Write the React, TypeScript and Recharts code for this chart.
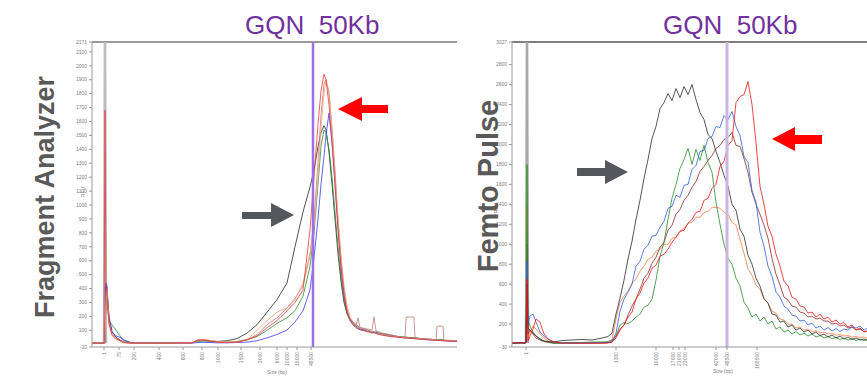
import React from 'react';
import { LineChart, Line, XAxis, YAxis, ReferenceLine } from 'recharts';

// ---------------- Fragment Analyzer (left) ----------------
const LEFT_POS = [0, 10, 12, 13, 14, 15, 17, 20, 24, 28, 32, 40, 60, 80, 100, 106, 112, 118, 125, 135, 145, 155, 165, 175, 185, 195, 203, 211, 218, 222, 226, 229, 232, 234, 237, 240, 243, 246, 249, 252, 255, 258, 261, 264, 266, 268, 275, 280, 282, 284, 290, 298, 306, 313, 314, 322, 323, 330, 340, 344, 345, 351, 352, 358, 365];
const LEFT_BLACK = [8, 8, 8, 8, 420, 380, 200, 90, 50, 30, 15, 8, 8, 8, 10, 30, 32, 25, 20, 25, 40, 80, 140, 230, 320, 440, 700, 950, 1130, 1250, 1420, 1520, 1570, 1540, 1380, 1150, 900, 650, 450, 300, 220, 180, 160, 140, 130, 120, 100, 90, 85, 80, 75, 65, 55, 50, 50, 45, 45, 40, 35, 30, 30, 30, 28, 25, 22];
const LEFT_RED = [8, 8, 8, 1680, 400, 350, 150, 70, 40, 25, 12, 8, 8, 8, 10, 30, 30, 22, 15, 12, 15, 30, 60, 118, 170, 240, 300, 390, 820, 1200, 1580, 1820, 1940, 1900, 1720, 1450, 1150, 820, 560, 360, 230, 170, 140, 120, 110, 105, 90, 80, 85, 75, 65, 55, 50, 45, 45, 40, 40, 35, 30, 28, 28, 25, 25, 22, 20];
const LEFT_ORANGE = [8, 8, 8, 8, 300, 380, 130, 60, 35, 20, 10, 8, 8, 8, 12, 32, 35, 28, 20, 15, 20, 30, 100, 170, 230, 260, 320, 440, 650, 850, 1200, 1550, 1800, 1900, 1820, 1550, 1200, 900, 620, 420, 280, 200, 160, 140, 130, 120, 100, 90, 88, 80, 70, 60, 52, 48, 48, 42, 42, 38, 32, 30, 30, 28, 26, 24, 22];
const LEFT_ROSY = [8, 8, 8, 8, 380, 400, 160, 70, 40, 25, 12, 8, 8, 8, 10, 25, 28, 22, 15, 12, 15, 30, 70, 140, 190, 260, 330, 420, 640, 900, 1300, 1650, 1870, 1900, 1800, 1550, 1250, 900, 620, 400, 250, 180, 150, 130, 190, 120, 110, 100, 195, 95, 80, 70, 55, 45, 195, 195, 45, 40, 35, 30, 130, 130, 30, 28, 25];
const LEFT_GREEN = [8, 8, 8, 8, 380, 300, 170, 140, 100, 60, 25, 8, 8, 10, 12, 20, 22, 18, 15, 15, 20, 35, 55, 100, 150, 190, 240, 345, 560, 800, 1150, 1420, 1540, 1520, 1400, 1200, 950, 700, 480, 320, 220, 170, 140, 120, 110, 105, 95, 85, 80, 90, 70, 60, 55, 50, 50, 45, 45, 38, 32, 30, 30, 35, 28, 25, 22];
const LEFT_BLUE = [8, 8, 8, 8, 440, 420, 180, 90, 60, 50, 30, 10, 8, 8, 8, 12, 14, 12, 10, 10, 12, 15, 25, 45, 70, 102, 160, 240, 390, 620, 900, 1150, 1350, 1500, 1660, 1450, 1150, 850, 550, 350, 240, 180, 150, 130, 120, 110, 100, 88, 90, 85, 70, 60, 52, 45, 45, 40, 40, 35, 30, 28, 28, 25, 25, 22, 20];
const LEFT_MARKER_POS = [12, 13, 14];
const LEFT_MARKER_VAL = [8, 2400, 8];
const LEFT_TICK_POS = [12, 27, 42, 67, 91, 110, 126, 149, 168, 185, 195, 205, 219];
const LEFT_TICK_LABELS = ['1', '75', '200', '400', '600', '800', '1000', '1500', '3000', '6000', '10000', '15000', '48500'];
const LEFT_Y_TICKS = [-20, 100, 200, 300, 400, 500, 600, 700, 800, 900, 1000, 1100, 1200, 1300, 1400, 1500, 1600, 1700, 1800, 1900, 2000, 2100, 2171];
const LEFT_X_DOMAIN = [0, 365];
const LEFT_Y_DOMAIN = [-20, 2171];
const LEFT_GQN_POS = 221;

// ---------------- Femto Pulse (right) ----------------
const RIGHT_POS = [0, 10, 13, 14, 15, 16, 18, 21, 24, 28, 32, 36, 42, 50, 60, 70, 80, 90, 96, 100,
  104, 108, 112, 116, 120, 124, 128, 132, 136, 140, 144, 148, 152, 156, 160, 164, 168, 172, 176, 180, 184, 188, 192, 196, 200, 204, 208, 212, 216, 220, 224, 228, 232, 236, 240, 244, 248, 252, 256, 260, 264, 268, 272, 276, 280, 284, 288, 292, 296, 300, 304, 308, 312, 316, 320, 324, 328, 332, 336, 340, 344, 348, 352, 356, 360];
const RIGHT_BLACK = [10, 12, 10, 15, 600, 160, 140, 110, 80, 50, 30, 25, 20, 35, 40, 45, 40, 60, 75, 110,
  300, 460, 640, 850, 1030, 1250, 1440, 1660, 1850, 2060, 2180, 2360, 2420, 2510, 2440, 2560, 2470, 2580, 2500, 2600, 2450, 2320, 2250, 2100, 2060, 1930, 1820, 1690, 1580, 1400, 1340, 1150, 1080, 890, 800, 660, 580, 450, 410, 300, 290, 220, 230, 170, 190, 140, 160, 120, 140, 100, 120, 85, 100, 70, 90, 60, 80, 50, 70, 45, 60, 40, 50, 35, 45];
const RIGHT_GREEN = [10, 12, 10, 15, 1800, 250, 180, 120, 80, 50, 30, 20, 5, 10, 15, 15, 20, 20, 25, 40,
  80, 190, 215, 205, 230, 270, 300, 370, 390, 450, 640, 880, 1020, 1250, 1460, 1600, 1760, 1850, 1960, 1800, 1950, 1840, 1990, 1820, 1720, 1420, 1200, 1000, 860, 800, 660, 580, 420, 360, 270, 300, 230, 270, 200, 230, 150, 170, 120, 140, 100, 125, 90, 110, 80, 100, 70, 85, 60, 75, 55, 65, 45, 60, 40, 55, 35, 50, 35, 45, 30];
const RIGHT_BLUE = [10, 12, 10, 15, 830, 200, 280, 300, 220, 120, 80, 50, 20, 10, 10, 12, 10, 12, 15, 25,
  110, 330, 450, 520, 600, 780, 830, 950, 990, 1080, 1090, 1170, 1230, 1360, 1380, 1490, 1470, 1590, 1600, 1750, 1790, 1930, 1940, 2060, 2080, 2180, 2170, 2290, 2250, 2330, 2180, 2090, 1880, 1820, 1540, 1420, 1120, 980, 780, 680, 520, 470, 380, 350, 290, 280, 230, 240, 190, 210, 160, 180, 140, 165, 130, 155, 125, 150, 140, 175, 160, 180, 140, 165, 135];
const RIGHT_RED = [10, 12, 10, 15, 650, 30, 80, 150, 250, 220, 100, 50, 20, 10, 8, 8, 8, 8, 10, 20,
  80, 150, 190, 270, 320, 450, 510, 610, 660, 760, 790, 880, 900, 950, 1020, 1070, 1130, 1140, 1210, 1250, 1320, 1330, 1440, 1460, 1560, 1600, 1780, 1830, 1990, 2040, 2420, 2480, 2500, 2630, 2400, 2020, 1580, 1400, 1180, 1080, 900, 780, 630, 580, 470, 450, 380, 370, 310, 320, 270, 300, 250, 270, 220, 240, 200, 215, 170, 190, 140, 160, 120, 135, 100];
const RIGHT_MAROON = [10, 12, 10, 15, 1000, 100, 140, 100, 60, 40, 25, 15, 10, 10, 10, 10, 12, 12, 15, 20,
  60, 140, 190, 290, 380, 450, 550, 660, 710, 810, 870, 970, 1020, 1140, 1190, 1300, 1350, 1440, 1490, 1570, 1630, 1730, 1780, 1840, 1890, 1960, 1990, 2050, 2070, 2120, 1990, 1980, 1860, 1720, 1520, 1400, 1300, 1190, 1060, 860, 700, 590, 470, 440, 380, 370, 320, 310, 270, 280, 250, 260, 230, 230, 200, 210, 180, 190, 160, 170, 140, 150, 125, 130, 115];
const RIGHT_ORANGE = [10, 12, 10, 15, 1400, 50, 120, 180, 150, 100, 60, 30, 15, 10, 10, 10, 10, 10, 12, 40,
  250, 420, 480, 530, 610, 650, 730, 780, 850, 870, 930, 950, 1000, 1000, 1060, 1070, 1130, 1160, 1210, 1220, 1270, 1270, 1320, 1330, 1370, 1370, 1360, 1320, 1300, 1220, 1190, 1050, 910, 750, 690, 590, 550, 460, 410, 330, 310, 250, 240, 200, 200, 160, 170, 140, 150, 120, 135, 110, 120, 100, 105, 90, 95, 80, 85, 70, 75, 65, 70, 55, 60];
const RIGHT_MARKER_POS = [14, 15, 16];
const RIGHT_MARKER_VAL = [10, 3200, 10];
const RIGHT_TICK_POS = [14, 104, 144, 161, 167, 173, 204, 215, 245];
const RIGHT_TICK_LABELS = ['1', '1300', '10000', '17000', '21000', '23000', '42000', '48500', '165500'];
const RIGHT_Y_TICKS = [-30, 200, 400, 600, 800, 1000, 1200, 1400, 1600, 1800, 2000, 2200, 2400, 2600, 2800, 3027];
const RIGHT_X_DOMAIN = [0, 360];
const RIGHT_Y_DOMAIN = [-30, 3027];
const RIGHT_GQN_POS = 215;

const TITLE = 'GQN  50Kb';
const SANS = '"Liberation Sans", Arial, sans-serif';

function buildRows(pos: number[], series: Record<string, number[]>) {
  return pos.map((p, i) => {
    const r: any = { pos: p };
    for (const k of Object.keys(series)) r[k] = series[k][i];
    return r;
  });
}

const leftRows = buildRows(LEFT_POS, {
  black: LEFT_BLACK, red: LEFT_RED, orange: LEFT_ORANGE, rosy: LEFT_ROSY, green: LEFT_GREEN, blue: LEFT_BLUE,
});
const leftMarker = buildRows(LEFT_MARKER_POS, { v: LEFT_MARKER_VAL });
const rightRows = buildRows(RIGHT_POS, {
  black: RIGHT_BLACK, green: RIGHT_GREEN, blue: RIGHT_BLUE, red: RIGHT_RED, maroon: RIGHT_MAROON, orange: RIGHT_ORANGE,
});
const rightMarker = buildRows(RIGHT_MARKER_POS, { v: RIGHT_MARKER_VAL });

const makeTick = (positions: number[], labels: string[]) => (props: any) => {
  const { x, y, payload } = props;
  const i = positions.indexOf(payload.value);
  return (
    <g transform={`translate(${x},${y})`}>
      <text transform="rotate(-90)" x={0} y={0} dy={2} textAnchor="end" fontSize={5} fill="#808080" fontFamily={SANS}>
        {i >= 0 ? labels[i] : ''}
      </text>
    </g>
  );
};

const axisStroke = '#9a9a9a';
const yTick = { fontSize: 5, fill: '#808080', fontFamily: SANS };

function LeftChart() {
  return (
    <LineChart width={470} height={376} data={leftRows} margin={{ top: 42, right: 13, bottom: 0, left: 62 }}>
      <XAxis dataKey="pos" type="number" domain={LEFT_X_DOMAIN} ticks={LEFT_TICK_POS} interval={0}
        tick={makeTick(LEFT_TICK_POS, LEFT_TICK_LABELS)} tickSize={3} height={29} stroke={axisStroke} allowDataOverflow />
      <YAxis type="number" domain={LEFT_Y_DOMAIN} ticks={LEFT_Y_TICKS} interval={0} tick={yTick}
        tickSize={3} width={30} stroke={axisStroke} allowDataOverflow />
      <ReferenceLine y={LEFT_Y_DOMAIN[1]} stroke="#7a7a7a" strokeWidth={1.5} />
      <Line data={leftMarker} dataKey="v" stroke="#bcbcbc" strokeWidth={2.5} dot={false} isAnimationActive={false} />
      <Line dataKey="black" stroke="#262626" strokeWidth={0.8} dot={false} isAnimationActive={false} />
      <Line dataKey="green" stroke="#2e8b2e" strokeWidth={0.8} dot={false} isAnimationActive={false} />
      <Line dataKey="blue" stroke="#3b3bee" strokeWidth={0.8} dot={false} isAnimationActive={false} />
      <Line dataKey="rosy" stroke="#c07a7a" strokeWidth={0.8} dot={false} isAnimationActive={false} />
      <Line dataKey="orange" stroke="#f5a37a" strokeWidth={0.8} dot={false} isAnimationActive={false} />
      <Line dataKey="red" stroke="#e8383a" strokeWidth={0.8} dot={false} isAnimationActive={false} />
      <ReferenceLine x={LEFT_GQN_POS} stroke="#9d6fe8" strokeWidth={2.5} />
    </LineChart>
  );
}

function RightChart() {
  return (
    <LineChart width={402} height={376} data={rightRows} margin={{ top: 42, right: 0, bottom: 0, left: 12 }}>
      <XAxis dataKey="pos" type="number" domain={RIGHT_X_DOMAIN} ticks={RIGHT_TICK_POS} interval={0}
        tick={makeTick(RIGHT_TICK_POS, RIGHT_TICK_LABELS)} tickSize={3} height={29} stroke={axisStroke} allowDataOverflow />
      <YAxis type="number" domain={RIGHT_Y_DOMAIN} ticks={RIGHT_Y_TICKS} interval={0} tick={yTick}
        tickSize={3} width={30} stroke={axisStroke} allowDataOverflow />
      <ReferenceLine y={RIGHT_Y_DOMAIN[1]} stroke="#555" strokeWidth={1.5} />
      <Line data={rightMarker} dataKey="v" stroke="#a8a8a8" strokeWidth={2.5} dot={false} isAnimationActive={false} />
      <Line dataKey="orange" stroke="#f27d45" strokeWidth={0.8} dot={false} isAnimationActive={false} />
      <Line dataKey="maroon" stroke="#962626" strokeWidth={0.8} dot={false} isAnimationActive={false} />
      <Line dataKey="green" stroke="#269026" strokeWidth={0.8} dot={false} isAnimationActive={false} />
      <Line dataKey="blue" stroke="#2f5fe0" strokeWidth={0.8} dot={false} isAnimationActive={false} />
      <Line dataKey="black" stroke="#2a2a2a" strokeWidth={0.8} dot={false} isAnimationActive={false} />
      <Line dataKey="red" stroke="#f01515" strokeWidth={0.8} dot={false} isAnimationActive={false} />
      <ReferenceLine x={RIGHT_GQN_POS} stroke="#cbb6e2" strokeWidth={3} />
    </LineChart>
  );
}

function Overlay() {
  return (
    <svg width={867} height={376} style={{ position: 'absolute', left: 0, top: 0, pointerEvents: 'none' }}>
      <text x={245} y={34} fontSize={26} fill="#7030a0" fontFamily={SANS} style={{ whiteSpace: 'pre' }}>{TITLE}</text>
      <text x={663} y={34} fontSize={26} fill="#7030a0" fontFamily={SANS} style={{ whiteSpace: 'pre' }}>{TITLE}</text>
      <text transform="translate(54,197) rotate(-90)" textAnchor="middle" fontSize={27} fontWeight="bold" fill="#595959" fontFamily={SANS}>Fragment Analyzer</text>
      <text transform="translate(498,186) rotate(-90)" textAnchor="middle" fontSize={29} fontWeight="bold" fill="#595959" fontFamily={SANS}>Femto Pulse</text>
      <text transform="translate(85,192) rotate(-90)" textAnchor="middle" fontSize={5} fill="#808080" fontFamily={SANS}>RFU</text>
      <text transform="translate(498,208) rotate(-90)" textAnchor="middle" fontSize={5} fill="#a05050" fontFamily={SANS}>RFU</text>
      <text x={277} y={374} textAnchor="middle" fontSize={5} fill="#808080" fontFamily={SANS}>Size (bp)</text>
      <text x={723} y={373} textAnchor="middle" fontSize={5} fill="#808080" fontFamily={SANS}>Size (bp)</text>
      <polygon points="242,212 271,212 271,203 294,215 271,227 271,219 242,219" fill="#54585c" />
      <polygon points="388,105 362,105 362,97 338,109 362,121 362,113 388,113" fill="#ff0000" />
      <polygon points="577,168 605,168 605,160 628,172 605,184 605,176 577,176" fill="#54585c" />
      <polygon points="822,135 795,135 795,127 772,139 795,151 795,144 822,144" fill="#ff0000" />
    </svg>
  );
}

export default function App() {
  return (
    <div style={{ position: 'absolute', left: 0, top: 0, width: 867, height: 376, overflow: 'hidden', background: '#fff' }}>
      <div style={{ position: 'absolute', left: 0, top: 0 }}><LeftChart /></div>
      <div style={{ position: 'absolute', left: 470, top: 0 }}><RightChart /></div>
      <Overlay />
    </div>
  );
}
